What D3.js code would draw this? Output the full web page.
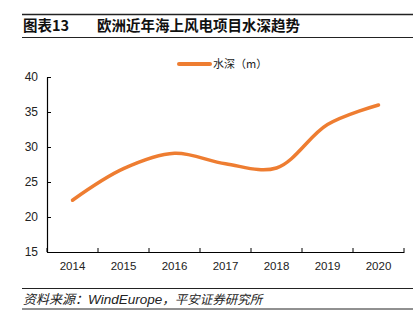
<!DOCTYPE html>
<html>
<head>
<meta charset="utf-8">
<script src="https://cdn.jsdelivr.net/npm/d3@7"></script>
<style>
  body { margin: 0; background: #fff; }
  svg { display: block; font-family: "Liberation Sans", Arial, "Noto Sans CJK SC", sans-serif; }
</style>
</head>
<body>
<script>
var years = ["2014", "2015", "2016", "2017", "2018", "2019", "2020"];
var depth = [22.4, 26.9, 29.1, 27.6, 27.0, 33.2, 36.0];
var yTicks = [15, 20, 25, 30, 35, 40];
var seriesName = "水深（m）";
var titleNo = "图表13";
var titleText = "欧洲近年海上风电项目水深趋势";
var sourceParts = ["资料来源：", "WindEurope", "，平安证券研究所"];

var width = 417, height = 335;
var mLeft = 47, mRight = 404, mTop = 77, mBottom = 252;
var orange = "#EE7D31";
var cjk = "'Noto Sans CJK SC', sans-serif";
var latin = "'Liberation Sans', Arial, sans-serif";

var svg = d3.select("body").append("svg")
  .attr("width", width)
  .attr("height", height);

// title block
svg.append("line").attr("x1", 22).attr("x2", 413).attr("y1", 14.5).attr("y2", 14.5)
  .attr("stroke", "#222").attr("stroke-width", 1.5);
svg.append("text")
  .attr("x", 23).attr("y", 31)
  .attr("font-family", cjk)
  .attr("font-size", 14.5).attr("font-weight", "bold").attr("fill", "#111")
  .text(titleNo);
svg.append("text")
  .attr("x", 97).attr("y", 31)
  .attr("font-family", cjk)
  .attr("font-size", 14.5).attr("font-weight", "bold").attr("fill", "#111")
  .text(titleText);
svg.append("line").attr("x1", 22).attr("x2", 413).attr("y1", 37.5).attr("y2", 37.5)
  .attr("stroke", "#222").attr("stroke-width", 1);

// scales
var x = d3.scaleBand().domain(years).range([mLeft, mRight]);
var y = d3.scaleLinear().domain([15, 40]).range([mBottom, mTop]);

// y axis
var yAxis = d3.axisLeft(y).tickValues(yTicks).tickSizeInner(-4).tickSizeOuter(0).tickPadding(9);
var gy = svg.append("g").attr("transform", "translate(" + mLeft + ",0)").call(yAxis);
gy.select(".domain").attr("stroke", "#000").attr("stroke-width", 1.2);
gy.selectAll(".tick line").attr("stroke", "#000");
gy.selectAll(".tick text").attr("font-size", 12).attr("fill", "#222")
  .attr("font-family", latin);

// x axis: labels at band centres, ticks at band boundaries
var xAxis = d3.axisBottom(x).tickSize(0).tickPadding(10);
var gx = svg.append("g").attr("transform", "translate(0," + mBottom + ")").call(xAxis);
gx.select(".domain").attr("stroke", "#000").attr("stroke-width", 1.2);
gx.selectAll(".tick text").attr("font-size", 11.5).attr("fill", "#222")
  .attr("font-family", latin);
var bounds = years.map(function(d) { return x(d); }).concat([x.range()[1]]);
gx.selectAll(".bound").data(bounds).enter().append("line")
  .attr("class", "bound")
  .attr("x1", d => d).attr("x2", d => d)
  .attr("y1", 0).attr("y2", -4)
  .attr("stroke", "#000");

// line
var line = d3.line()
  .x((d, i) => x(years[i]) + x.bandwidth() / 2)
  .y(d => y(d))
  .curve(d3.curveCatmullRom.alpha(0.5));
svg.append("path")
  .datum(depth)
  .attr("fill", "none")
  .attr("stroke", orange)
  .attr("stroke-width", 3.5)
  .attr("stroke-linecap", "round")
  .attr("d", line);

// legend
svg.append("line").attr("x1", 179).attr("x2", 210).attr("y1", 64).attr("y2", 64)
  .attr("stroke", orange).attr("stroke-width", 4).attr("stroke-linecap", "round");
svg.append("text").attr("x", 213).attr("y", 68)
  .attr("font-family", cjk)
  .attr("font-size", 11).attr("fill", "#222")
  .text(seriesName);

// source block
svg.append("line").attr("x1", 22).attr("x2", 413).attr("y1", 288.5).attr("y2", 288.5)
  .attr("stroke", "#222").attr("stroke-width", 1);
var src = svg.append("text")
  .attr("x", 23).attr("y", 304)
  .attr("font-size", 13).attr("font-style", "italic").attr("fill", "#222");
src.append("tspan").attr("font-family", cjk).text(sourceParts[0]);
src.append("tspan").attr("font-family", latin).attr("font-size", 13.5).text(sourceParts[1]);
src.append("tspan").attr("font-family", cjk).attr("font-size", 12.5).text(sourceParts[2]);
svg.append("line").attr("x1", 22).attr("x2", 413).attr("y1", 309).attr("y2", 309)
  .attr("stroke", "#222").attr("stroke-width", 1);
</script>
</body>
</html>
